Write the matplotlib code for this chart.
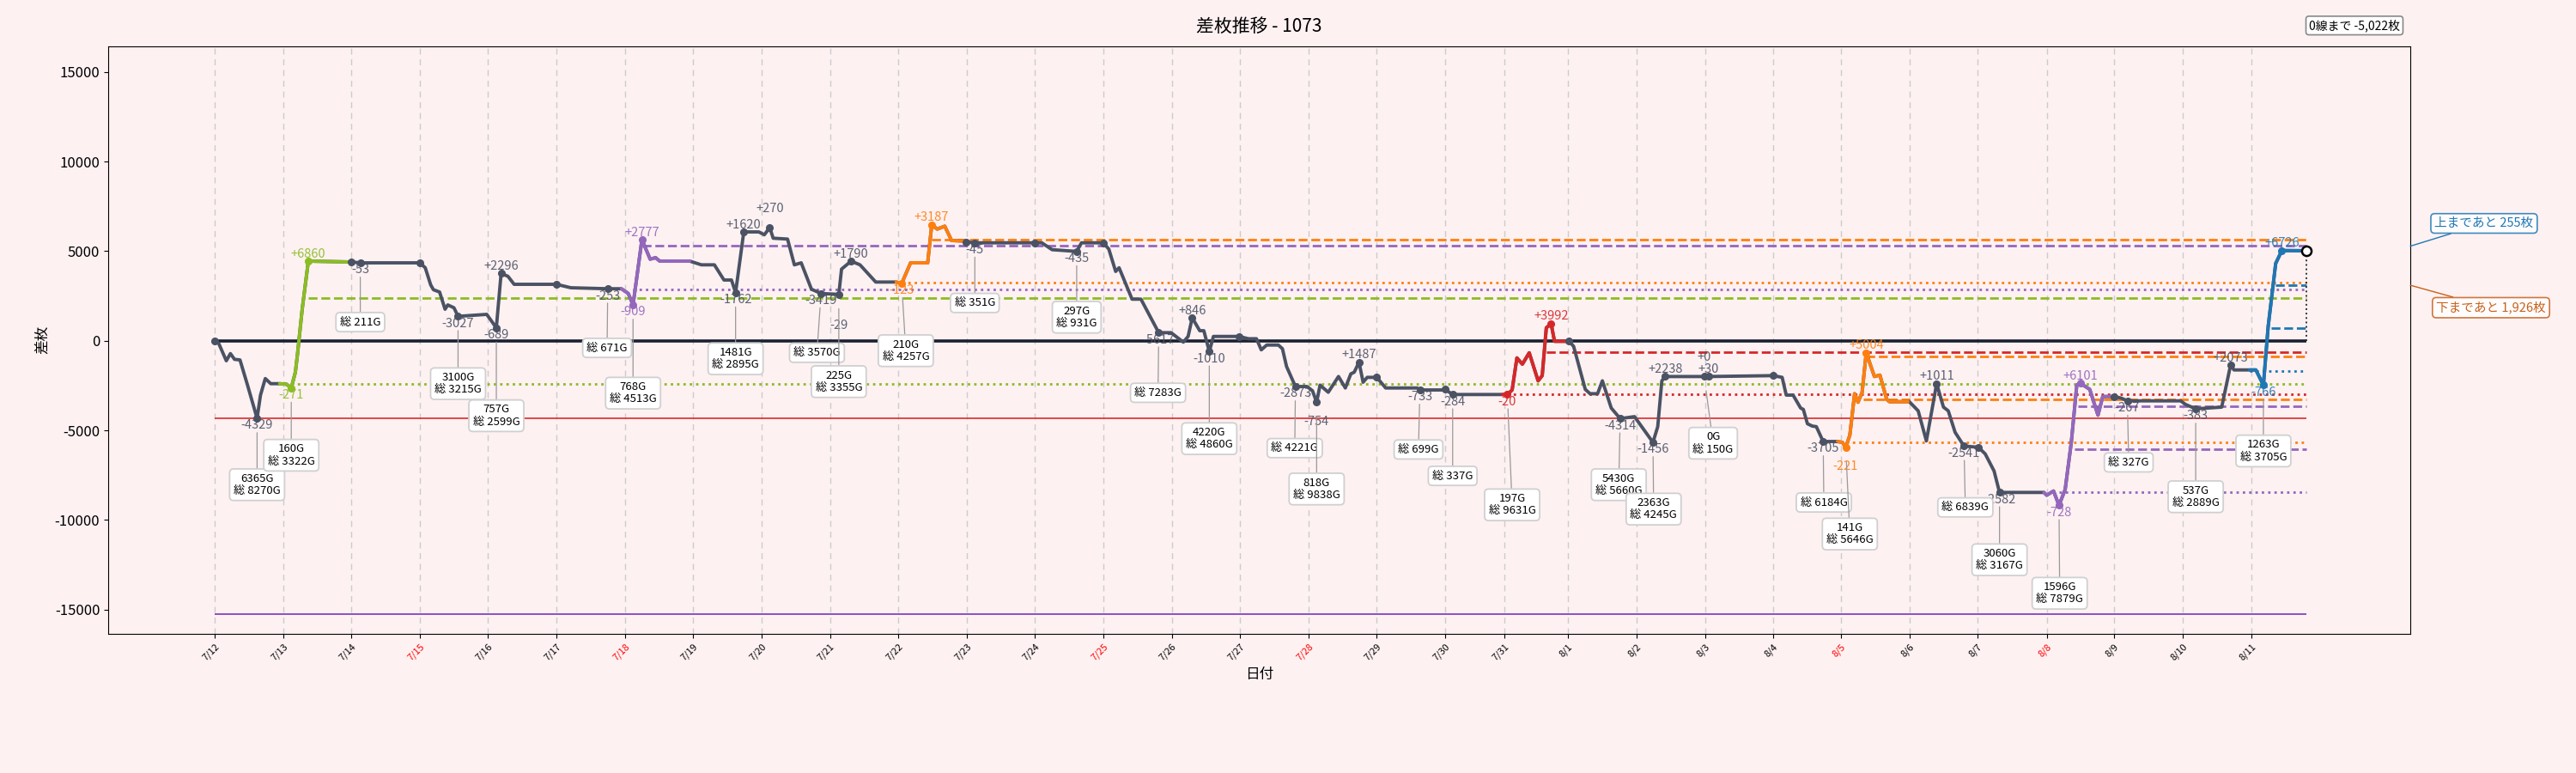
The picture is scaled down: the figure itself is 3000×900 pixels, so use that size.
import numpy as np
import matplotlib
matplotlib.use("Agg")
import matplotlib.pyplot as plt

plt.rcParams['font.family'] = ['Noto Sans CJK JP', 'DejaVu Sans']
plt.rcParams['axes.unicode_minus'] = False

# x axis: one unit = one day, 7/12 = 0 (7/31 is a short day)
dates = ["7/12", "7/13", "7/14", "7/15", "7/16", "7/17", "7/18", "7/19", "7/20", "7/21",
         "7/22", "7/23", "7/24", "7/25", "7/26", "7/27", "7/28", "7/29", "7/30", "7/31",
         "8/1", "8/2", "8/3", "8/4", "8/5", "8/6", "8/7", "8/8", "8/9", "8/10", "8/11"]
date_pos = [0, 1, 2, 3, 4, 5, 6, 7, 8, 9, 10, 11, 12, 13, 14, 15, 16, 17, 18, 18.87,
            19.80, 20.80, 21.80, 22.80, 23.79, 24.80, 25.79, 26.80, 27.79, 28.79, 29.80]
red_days = ["7/15", "7/18", "7/25", "7/28", "8/5", "8/8"]

# cumulative difference (差枚)
xs = [0.00, 0.06, 0.17, 0.23, 0.29, 0.37, 0.48, 0.62, 0.67, 0.74, 0.82, 0.95,
      1.05, 1.12, 1.18, 1.21, 1.28, 1.37, 2.00, 2.13, 3.00, 3.08, 3.16, 3.20,
      3.29, 3.37, 3.41, 3.50, 3.56, 3.98, 4.12, 4.19, 4.29, 4.38, 5.00, 5.21,
      5.75, 5.95, 6.05, 6.12, 6.25, 6.37, 6.45, 6.51, 6.95, 7.12, 7.31, 7.45,
      7.56, 7.62, 7.74, 7.96, 8.04, 8.12, 8.17, 8.38, 8.48, 8.58, 8.73, 8.87,
      9.13, 9.17, 9.31, 9.44, 9.67, 9.97, 10.05, 10.18, 10.43, 10.49, 10.57, 10.68,
      10.78, 10.97, 10.99, 11.12, 12.00, 12.10, 12.25, 12.61, 12.68, 13.00, 13.08, 13.18,
      13.23, 13.42, 13.55, 13.65, 13.81, 13.99, 14.17, 14.24, 14.30, 14.41, 14.47, 14.55,
      14.61, 14.99, 15.12, 15.24, 15.31, 15.39, 15.56, 15.62, 15.68, 15.81, 15.98, 16.06,
      16.12, 16.17, 16.29, 16.44, 16.54, 16.62, 16.67, 16.74, 16.80, 16.86, 17.00, 17.13,
      17.59, 17.63, 17.96, 18.00, 18.11, 18.84, 18.91, 18.98, 19.05, 19.13, 19.23, 19.36,
      19.42, 19.48, 19.55, 19.60, 19.79, 19.81, 19.88, 20.05, 20.12, 20.23, 20.30, 20.43,
      20.56, 20.77, 21.04, 21.11, 21.17, 21.22, 21.79, 21.85, 22.80, 22.93, 22.99, 23.09,
      23.20, 23.24, 23.30, 23.37, 23.43, 23.53, 23.74, 23.81, 23.86, 23.92, 23.99, 24.04,
      24.10, 24.16, 24.28, 24.36, 24.46, 24.50, 24.77, 24.79, 24.92, 25.04, 25.19, 25.29,
      25.36, 25.46, 25.59, 25.80, 25.90, 26.03, 26.11, 26.76, 26.80, 26.90, 26.98, 27.07,
      27.16, 27.24, 27.29, 27.43, 27.55, 27.62, 27.79, 27.89, 27.98, 28.76, 28.83, 28.98,
      29.36, 29.49, 29.54, 29.77, 29.86, 29.97, 30.04, 30.15, 30.24, 30.60]
ys = [0, -160, -1117, -717, -1037, -1070, -2474, -4329, -3033, -2108, -2395, -2395,
      -2425, -2635, -1755, -797, 1758, 4442, 4394, 4346, 4346, 4073, 3115, 2846,
      2717, 1758, 1998, 1840, 1361, 1471, 719, 3757, 3594, 3148, 3148, 2956,
      2900, 2900, 2635, 1998, 5640, 4552, 4633, 4442, 4442, 4235, 4235, 3388,
      3388, 2683, 6071, 6071, 5911, 6310, 5720, 5672, 4234, 4346, 2875, 2635,
      2587, 3995, 4442, 4235, 3275, 3275, 3196, 4346, 4346, 6469, 6230, 6390,
      5592, 5560, 5511, 5463, 5463, 5463, 5080, 4983, 5463, 5463, 5112, 3867,
      4073, 2319, 2319, 1600, 450, 450, -77, 240, 1280, 560, 560, -604,
      240, 240, 112, 112, -508, -240, -240, -447, -1437, -2554, -2554, -2794,
      -3431, -2474, -2874, -1994, -2635, -1850, -1755, -1197, -2314, -2043, -2043, -2635,
      -2635, -2746, -2746, -2714, -3000, -3000, -3000, -2746, -958, -1309, -671, -2235,
      -1947, 719, 958, -30, -30, 0, -319, -2714, -2954, -2954, -2235, -3753,
      -4344, -4233, -5670, -4792, -2235, -1997, -1997, -1997, -1947, -2043, -3033, -3033,
      -3752, -3833, -4630, -4760, -4792, -5620, -5620, -5670, -5941, -5271, -2954, -3431,
      -2874, -671, -1994, -1917, -3273, -3400, -3400, -3400, -3911, -5589, -2395, -3703,
      -3911, -5108, -5876, -5941, -6310, -7264, -8462, -8462, -8620, -8382, -9181, -8300,
      -5670, -2474, -2362, -2714, -4152, -3113, -3113, -3200, -3354, -3354, -3550, -3800,
      -3703, -1356, -1629, -1629, -1629, -2474, 800, 4313, 5032, 5022]

# highlighted sessions (start, end, colour)
sessions = [(0.95, 2.00, '#8bbd22'), (5.95, 6.95, '#9467bd'), (9.97, 10.97, '#ff7f0e'),
            (18.84, 19.79, '#d62728'), (23.74, 24.77, '#ff7f0e'), (26.76, 27.79, '#9467bd'),
            (29.77, 30.60, '#1f77b4')]

# reference levels (value, start x, colour, style)
ref_lines = [(2396, 1.37, '#8bbd22', '--'), (-2396, 1.12, '#8bbd22', ':'),
             (5304, 6.25, '#9467bd', '--'), (2875, 6.12, '#9467bd', ':'),
             (5640, 10.49, '#ff7f0e', '--'), (3243, 10.05, '#ff7f0e', ':'),
             (-637, 19.48, '#d62728', '--'), (-3000, 18.91, '#d62728', ':'),
             (-877, 24.16, '#ff7f0e', '--'), (-3273, 24.12, '#ff7f0e', '--'), (-5670, 23.86, '#ff7f0e', ':'),
             (-3641, 27.26, '#9467bd', '--'), (-6037, 27.21, '#9467bd', '--'), (-8433, 26.98, '#9467bd', ':'),
             (3115, 30.15, '#1f77b4', '--'), (719, 30.09, '#1f77b4', '--'), (-1677, 29.77, '#1f77b4', ':')]
low_line = -4329
floor_line = -15237
current = 5022
to_top = 255
to_bottom = 1926

# point labels
lab_x = [0.62, 1.12, 1.37, 2.13, 3.56, 4.12, 4.19, 5.75, 6.12, 6.25, 7.62, 7.74, 8.12, 8.87,
         9.13, 9.31, 10.05, 10.49, 11.12, 12.61, 13.81, 14.30, 14.55, 15.81, 16.12, 16.74,
         17.63, 18.11, 18.91, 19.55, 20.56, 21.04, 21.22, 21.79, 21.85, 23.53, 23.86, 24.16,
         25.19, 25.59, 26.11, 26.98, 27.29, 27.98, 28.98, 29.49, 29.97, 30.24]
lab_text = ["-4329", "-271", "+6860", "-53", "-3027", "-689", "+2296", "-253", "-909", "+2777",
            "-1762", "+1620", "+270", "-3419", "-29", "+1790", "-123", "+3187", "-45", "-435",
            "-5617", "+846", "-1010", "-2873", "-754", "+1487", "-733", "-284", "-20", "+3992",
            "-4314", "-1456", "+2238", "+0", "+30", "-3705", "-221", "+5004", "+1011", "-2541",
            "-2582", "-728", "+6101", "-267", "-383", "+2073", "-766", "+6726"]
extra_shift = {"-29": 20, "-754": 10, "+0": 10, "-221": 10, "+270": 10}

# game count boxes
box_x = [0.62, 1.12, 2.13, 3.56, 4.12, 5.75, 6.12, 7.62, 8.87, 9.13, 10.05, 11.12, 12.61, 13.81,
         14.55, 15.81, 16.12, 17.63, 18.11, 18.91, 20.56, 21.04, 21.79, 23.53, 23.86, 25.59,
         26.11, 26.98, 27.98, 28.98, 29.97]
box_text = ["6365G\n総 8270G", "160G\n総 3322G", "総 211G", "3100G\n総 3215G", "757G\n総 2599G",
            "総 671G", "768G\n総 4513G", "1481G\n総 2895G", "総 3570G", "225G\n総 3355G",
            "210G\n総 4257G", "総 351G", "297G\n総 931G", "総 7283G", "4220G\n総 4860G",
            "総 4221G", "818G\n総 9838G", "総 699G", "総 337G", "197G\n総 9631G",
            "5430G\n総 5660G", "2363G\n総 4245G", "0G\n総 150G", "総 6184G", "141G\n総 5646G",
            "総 6839G", "3060G\n総 3167G", "1596G\n総 7879G", "総 327G", "537G\n総 2889G",
            "1263G\n総 3705G"]
box_cx = [0.62, 1.12, 2.13, 3.56, 4.12, 5.74, 6.12, 7.62, 8.81, 9.13, 10.11, 11.12, 12.61, 13.80,
          14.55, 15.80, 16.12, 17.61, 18.11, 18.98, 20.54, 21.05, 21.92, 23.54, 23.92, 25.61,
          26.11, 26.99, 28.00, 28.98, 29.97]
box_cy = [-8031, -6387, 1040, -2396, -4183, -398, -2923, -1006, -671, -2281, -556, 2108, 1313, -2904,
          -5462, -5989, -8270, -6066, -7537, -9152, -8031, -9391, -5716, -9022, -10781, -9295,
          -12218, -14087, -6785, -8701, -6148]

day_marks = [0, 2.00, 3.00, 5.00, 10.99, 12.00, 13.00, 14.99, 17.00, 18.00, 19.81,
             22.80, 25.80, 27.79]

bg = '#fdf1f2'
gray = '#4a5263'
xs = np.array(xs, dtype=float)
ys = np.array(ys, dtype=float)
x_end = xs[-1]


def color_at(x):
    for x0, x1, c in sessions:
        if x0 <= x <= x1:
            return c
    return gray


fig = plt.figure(figsize=(30, 9), dpi=100)
fig.patch.set_facecolor(bg)
ax = fig.add_axes([0.042, 0.1803, 0.8937, 0.7597])
ax.set_facecolor(bg)

for p in date_pos:
    ax.axvline(p, color='#cccccc', lw=1.0, ls=(0, (5, 4)), zorder=0)

ax.hlines(0, 0, x_end, color='#1b2030', lw=2.6, zorder=2)
ax.hlines(low_line, 0, x_end, color='#e02828', lw=1.2, zorder=1)
ax.hlines(floor_line, 0, x_end, color='#7a35b8', lw=1.2, zorder=1)
for v, x0, c, st in ref_lines:
    ax.hlines(v, x0, x_end, color=c, ls=st, lw=2.0, zorder=1.5)

ax.plot(xs, ys, color=gray, lw=2.8, zorder=3, solid_capstyle='round')
for x0, x1, c in sessions:
    m = (xs >= x0) & (xs <= x1)
    ax.plot(xs[m], ys[m], color=c, lw=2.8, zorder=4, solid_capstyle='round')

dy = np.interp(day_marks, xs, ys)
ax.plot(day_marks, dy, 'o', color=gray, ms=5.5, zorder=5)

for x, t in zip(lab_x, lab_text):
    y = np.interp(x, xs, ys)
    c = color_at(x)
    ax.plot(x, y, 'o', color=c, ms=5.5, zorder=5)
    if t.startswith('+'):
        off, va = 1 + extra_shift.get(t, 0), 'bottom'
    else:
        off, va = -1 - extra_shift.get(t, 0), 'top'
    ax.annotate(t, (x, y), xytext=(0, off), textcoords='offset points', ha='center', va=va,
                fontsize=10.5, color=c, alpha=0.9, zorder=6)

for x, t, bx, by in zip(box_x, box_text, box_cx, box_cy):
    y = np.interp(x, xs, ys)
    ax.annotate(t, (x, y), xytext=(bx, by), textcoords='data', ha='center', va='center',
                fontsize=9.5, linespacing=1.15, zorder=7,
                bbox=dict(boxstyle='round,pad=0.35', fc='white', ec='#d0d0d0', lw=1.3),
                arrowprops=dict(arrowstyle='-', color='#999999', lw=0.9, shrinkA=0, shrinkB=12))

# current position
ax.plot(x_end, current, 'o', ms=8, mfc='white', mec='black', mew=1.8, zorder=8)
ax.vlines(x_end, 0, current, color='#333333', ls=':', lw=1.4, zorder=2)

blue = '#1f77b4'
brown = '#c8601a'
ax.annotate(f"上まであと {to_top:,}枚", xy=(1.0, current + to_top),
            xycoords=('axes fraction', 'data'), xytext=(0.9643, 0.711),
            textcoords='figure fraction', ha='center', va='center', fontsize=10.5, color=blue,
            bbox=dict(boxstyle='round,pad=0.3', fc='white', ec=blue, lw=1.2, alpha=0.85),
            arrowprops=dict(arrowstyle='-', color=blue, lw=1.0, shrinkA=0, shrinkB=0),
            annotation_clip=False)
ax.annotate(f"下まであと {to_bottom:,}枚", xy=(1.0, current - to_bottom),
            xycoords=('axes fraction', 'data'), xytext=(0.967, 0.602),
            textcoords='figure fraction', ha='center', va='center', fontsize=10.5, color=brown,
            bbox=dict(boxstyle='round,pad=0.3', fc='white', ec=brown, lw=1.2, alpha=0.85),
            arrowprops=dict(arrowstyle='-', color=brown, lw=1.0, shrinkA=0, shrinkB=0),
            annotation_clip=False)

fig.text(0.914, 0.967, f"0線まで -{current:,}枚", ha='center', va='center', fontsize=10,
         bbox=dict(boxstyle='round,pad=0.25', fc='white', ec='#888888', lw=1.2))

ax.set_xlim(-1.558, 32.12)
ax.set_ylim(-16339, 16421)
ax.set_yticks([-15000, -10000, -5000, 0, 5000, 10000, 15000])
ax.tick_params(axis='y', labelsize=12)
ax.set_xticks(date_pos)
ax.set_xticklabels(dates, rotation=45, ha='right', rotation_mode='anchor', fontsize=8)
for lbl in ax.get_xticklabels():
    if lbl.get_text() in red_days:
        lbl.set_color('red')
ax.set_title("差枚推移 - 1073", fontsize=15, pad=12)
ax.set_ylabel("差枚", fontsize=12)
ax.set_xlabel("日付", fontsize=12)

fig.savefig("out.png", dpi=100, facecolor=bg)
